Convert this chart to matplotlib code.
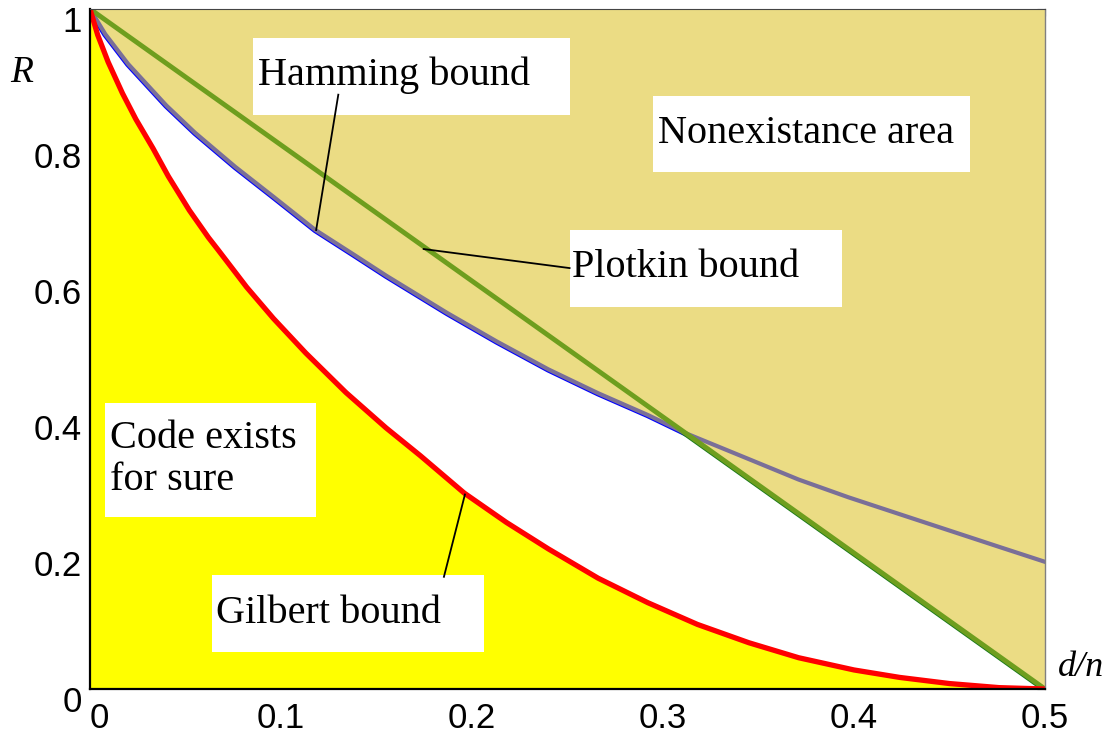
import matplotlib
matplotlib.use("Agg")
import numpy as np
import matplotlib.pyplot as plt
from matplotlib.patches import Rectangle
from matplotlib.transforms import ScaledTranslation

# values (d/n -> R)
gilbert_x = [0.0, 0.004, 0.0095, 0.017, 0.024, 0.033, 0.041, 0.052, 0.062,
             0.067, 0.082, 0.096, 0.113, 0.134, 0.155, 0.173, 0.196, 0.218,
             0.240, 0.266, 0.292, 0.318, 0.345, 0.371, 0.400, 0.424, 0.450,
             0.476, 0.5]
gilbert_r = [1.0, 0.962, 0.922, 0.876, 0.838, 0.795, 0.754, 0.704, 0.664,
             0.646, 0.591, 0.545, 0.494, 0.436, 0.384, 0.343, 0.288, 0.245,
             0.206, 0.163, 0.127, 0.095, 0.068, 0.046, 0.028, 0.017, 0.008,
             0.002, 0.0]

hamming_x = [0.0, 0.008, 0.020, 0.040, 0.055, 0.076, 0.096, 0.118, 0.138,
             0.155, 0.187, 0.213, 0.240, 0.266, 0.292, 0.312, 0.345, 0.371,
             0.397, 0.424, 0.450, 0.476, 0.5]
hamming_r = [1.0, 0.963, 0.919, 0.858, 0.818, 0.768, 0.724, 0.675, 0.639,
             0.608, 0.553, 0.511, 0.470, 0.435, 0.403, 0.376, 0.338, 0.308,
             0.282, 0.257, 0.233, 0.209, 0.187]

plotkin_x = [0.0, 0.5]
plotkin_r = [1.0, 0.0]

yticks = [0, 0.2, 0.4, 0.6, 0.8, 1]
ytick_labels = ["0", "0.2", "0.4", "0.6", "0.8", "1"]
xticks = [0, 0.1, 0.2, 0.3, 0.4, 0.5]
xtick_labels = ["0", "0.1", "0.2", "0.3", "0.4", "0.5"]

YELLOW = "#FFFF00"
KHAKI = "#EBDC84"
RED = "#FF0000"
OLIVE = "#6E9E1E"
DARKGREEN = "#1A7A1A"
BLUE = "#0000FF"
PURPLE = "#7A6F98"

serif = "Liberation Serif"
sans = "Liberation Sans"

fig = plt.figure(figsize=(11.09, 7.41), dpi=100)
ax = fig.add_axes([90 / 1109, 52 / 741, 955 / 1109, 680 / 741])
ax.set_xlim(0, 0.5)
ax.set_ylim(0, 1)

# regions
ax.fill_between(gilbert_x, 0, gilbert_r, color=YELLOW, lw=0, zorder=1)
upper = np.minimum(hamming_r, np.interp(hamming_x, plotkin_x, plotkin_r))
ax.plot(hamming_x, hamming_r, color=BLUE, lw=4.6, zorder=2,
        solid_joinstyle="round")
ax.plot(plotkin_x, plotkin_r, color=DARKGREEN, lw=4.8, zorder=2)
ax.fill_between(hamming_x, upper, 1, color=KHAKI, lw=0, zorder=3)

# bounds
ax.plot(hamming_x, hamming_r, color=PURPLE, lw=3.0, zorder=4,
        solid_joinstyle="round")
ax.plot(plotkin_x, plotkin_r, color=OLIVE, lw=3.5, zorder=4)
ax.plot(gilbert_x, gilbert_r, color=RED, lw=3.8, zorder=5,
        solid_joinstyle="round")

# labelled boxes: (x0, y0, x1, y1), text anchor, text
boxes = [
    ((0.0853, 0.844, 0.2511, 0.957), (0.0879, 0.888), "Hamming bound"),
    ((0.2947, 0.760, 0.4605, 0.872), (0.2974, 0.803), "Nonexistance area"),
    ((0.2511, 0.562, 0.3937, 0.675), (0.2526, 0.606), "Plotkin bound"),
    ((0.0079, 0.253, 0.1184, 0.421), (0.0105, 0.354), "Code exists\nfor sure"),
    ((0.0637, 0.054, 0.2063, 0.168), (0.0658, 0.097), "Gilbert bound"),
]
for (x0, y0, x1, y1), (tx, ty), txt in boxes:
    ax.add_patch(Rectangle((x0, y0), x1 - x0, y1 - y0, facecolor="white",
                           edgecolor="none", zorder=6))
    for i, ln in enumerate(txt.split("\n")):
        ax.text(tx, ty - i * 0.061, ln, family=serif, fontsize=29,
                va="baseline", ha="left", zorder=7)

# pointer lines
pointers = [((0.130, 0.874), (0.1184, 0.675)),
            ((0.1747, 0.647), (0.2511, 0.619)),
            ((0.1963, 0.286), (0.1853, 0.165))]
for (xa, ya), (xb, yb) in pointers:
    ax.plot([xa, xb], [ya, yb], color="black", lw=1.3, zorder=8)

# axes styling
for side in ("left", "bottom"):
    ax.spines[side].set_color("black")
    ax.spines[side].set_linewidth(1.6)
ax.spines["right"].set_color("#808080")
ax.spines["right"].set_linewidth(1.0)
ax.spines["top"].set_color("#444444")
ax.spines["top"].set_linewidth(0.8)
for s in ax.spines.values():
    s.set_zorder(9)

ax.set_xticks(xticks)
ax.set_xticklabels(xtick_labels, family=sans, fontsize=25)
ax.get_xticklabels()[0].set_horizontalalignment("left")
ax.set_yticks(yticks)
ax.set_yticklabels(ytick_labels, family=sans, fontsize=25)
ax.set_xticks(np.arange(0.05, 0.5, 0.05), minor=True)
ax.set_yticks(np.arange(0.1, 1.0, 0.1), minor=True)
ax.tick_params(axis="x", which="both", bottom=False, top=True, direction="in",
               length=5, color="#333333", width=0.8, pad=9)
ax.tick_params(axis="y", which="both", left=False, right=True, direction="in",
               length=6, color="#333333", width=0.8, pad=6)

shift = ScaledTranslation(0, -10 / 100, fig.dpi_scale_trans)
for lab in ax.get_yticklabels():
    lab.set_transform(lab.get_transform() + shift)

fig.text(22 / 1109, 1 - 73 / 741, "R", family=serif, style="italic",
         fontsize=27, ha="center", va="center")
fig.text(1081 / 1109, 1 - 668 / 741, "d/n", family=serif, style="italic",
         fontsize=26, ha="center", va="center")

fig.savefig("out.png", dpi=100)
